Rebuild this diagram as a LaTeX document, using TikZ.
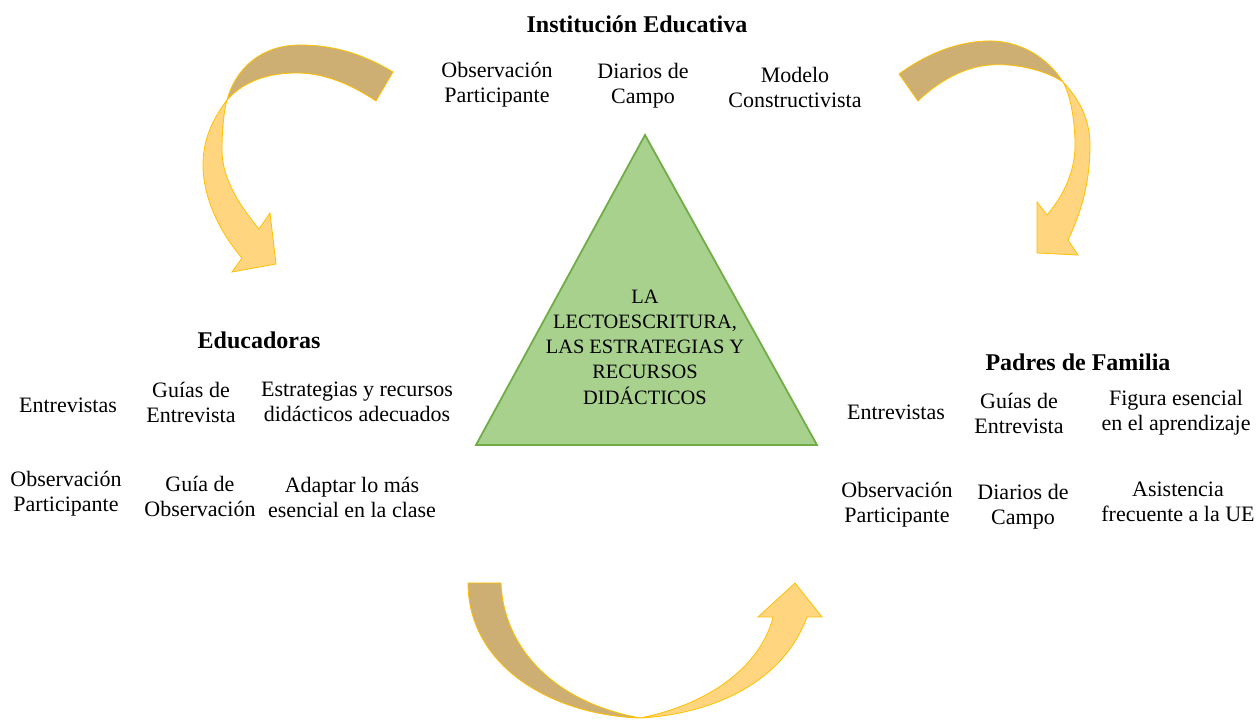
\documentclass[tikz,border=0pt]{standalone}
\usepackage{fontspec}
\setmainfont{Liberation Serif}
\usepackage{tikz}
\usetikzlibrary{positioning}
\definecolor{trianglecolor}{RGB}{169, 209, 142}
\definecolor{triangleline}{RGB}{112, 173, 71}
\definecolor{tailcolor}{RGB}{205, 175, 115}
\definecolor{headcolor}{RGB}{255, 213, 127}
\definecolor{arrowline}{RGB}{255, 192, 0}

\begin{document}
\begin{tikzpicture}[
    x=0.5pt, y=-0.5pt,
    item/.style={align=center, inner sep=0pt, font=\fontsize{11}{12.5}\selectfont},
    heading/.style={inner sep=0pt, font=\fontsize{12}{12.5}\selectfont\bfseries},
    tail/.style={fill=tailcolor, draw=arrowline, line width=0.4pt},
    head/.style={fill=headcolor, draw=arrowline, line width=0.4pt},
    tri/.style={fill=trianglecolor, draw=triangleline, line width=0.9pt}
]
    \useasboundingbox (0, 0) rectangle (1260, 721);

    % Triangle
    \coordinate (apex) at (645, 135);
    \coordinate (baseL) at (476, 445);
    \coordinate (baseR) at (817, 445);
    \draw[tri] (apex) -- (baseL) -- (baseR) -- cycle;
    \node[item, font=\fontsize{10.2}{12.6}\selectfont] (tema) at (645, 347) {LA\\LECTOESCRITURA,\\LAS ESTRATEGIAS Y\\RECURSOS\\DID\'ACTICOS};

    % Institucion Educativa - top
    \node[heading] (inst) at (637, 24) {Instituci\'on Educativa};
    \node[item] (instObs) at (497, 85) {Observaci\'on\\Participante};
    \node[item] (instDia) at (643, 86) {Diarios de\\Campo};
    \node[item] (instMod) at (795, 87) {Modelo\\Constructivista};

    % Educadoras - left side
    \node[heading] (edu) at (259, 340) {Educadoras};
    \node[item] (eduEnt) at (68, 405) {Entrevistas};
    \node[item] (eduGui) at (191, 402) {Gu\'ias de\\Entrevista};
    \node[item] (eduEst) at (357, 402) {Estrategias y recursos\\did\'acticos adecuados};
    \node[item] (eduObs) at (66, 494) {Observaci\'on\\Participante};
    \node[item] (eduGuo) at (200, 496) {Gu\'ia de\\Observaci\'on};
    \node[item] (eduAda) at (352, 497) {Adaptar lo m\'as\\esencial en la clase};

    % Padres de Familia - right side
    \node[heading] (pad) at (1078, 362) {Padres de Familia};
    \node[item] (padEnt) at (896, 412) {Entrevistas};
    \node[item] (padGui) at (1019, 413) {Gu\'ias de\\Entrevista};
    \node[item] (padFig) at (1176, 413) {Figura esencial\\en el aprendizaje};
    \node[item] (padObs) at (897, 505) {Observaci\'on\\Participante};
    \node[item] (padDia) at (1023, 507) {Diarios de\\Campo};
    \node[item] (padAsi) at (1178, 502) {Asistencia\\frecuente a la UE};

    % Curved arrow - top left
    \draw[tail] (393, 72) .. controls (360, 52) and (330, 45) .. (300, 45)
        .. controls (260, 45) and (235, 70) .. (227, 100)
        .. controls (245, 80) and (270, 73) .. (297, 73)
        .. controls (325, 73) and (352, 85) .. (376, 101) -- cycle;
    \draw[head] (227, 100) .. controls (212, 120) and (203, 140) .. (203, 165)
        .. controls (203, 200) and (222, 235) .. (242, 258)
        -- (232, 272) -- (276, 264) -- (270, 213) -- (259, 229)
        .. controls (235, 200) and (222, 175) .. (222, 150)
        .. controls (222, 130) and (224, 110) .. (227, 100) -- cycle;

    % Curved arrow - top right
    \draw[tail] (899, 74) .. controls (925, 55) and (955, 42) .. (987, 41)
        .. controls (1020, 40) and (1048, 58) .. (1063, 82)
        .. controls (1045, 70) and (1015, 63) .. (990, 65)
        .. controls (965, 67) and (940, 80) .. (918, 101) -- cycle;
    \draw[head] (1063, 82) .. controls (1080, 100) and (1090, 120) .. (1090, 145)
        .. controls (1090, 185) and (1080, 215) .. (1068, 240)
        -- (1078, 255) -- (1037, 253) -- (1037, 202) -- (1047, 215)
        .. controls (1068, 190) and (1076, 165) .. (1075, 140)
        .. controls (1074, 115) and (1070, 95) .. (1063, 82) -- cycle;

    % Curved arrow - bottom
    \draw[tail] (468, 583) -- (501, 583)
        .. controls (503, 640) and (545, 700) .. (640, 718)
        .. controls (550, 715) and (468, 665) .. (468, 583) -- cycle;
    \draw[head] (640, 718) .. controls (700, 715) and (780, 690) .. (807, 617)
        -- (822, 617) -- (795, 583) -- (758, 617) -- (773, 617)
        .. controls (762, 662) and (715, 703) .. (640, 718) -- cycle;

\end{tikzpicture}
\end{document}
